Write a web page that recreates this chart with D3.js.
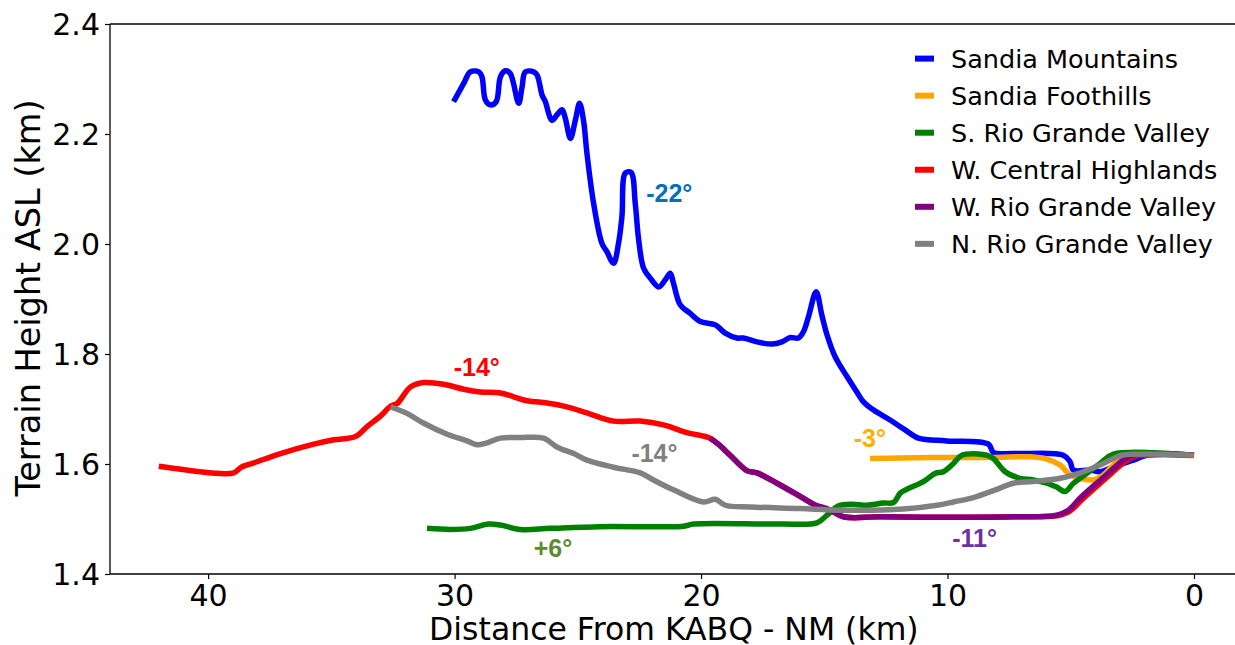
<!DOCTYPE html>
<html>
<head>
<meta charset="utf-8">
<script src="https://cdn.jsdelivr.net/npm/d3@7"></script>
<style>
  html, body { margin: 0; padding: 0; background: #ffffff; }
  svg { display: block; }
</style>
</head>
<body>
<svg id="chart" width="1235" height="645"></svg>
<script>
// Terrain profiles: [distance from KABQ (km), terrain height ASL (km)]
const sandiaMountains = [
  [30.04, 2.259], [29.63, 2.292], [29.36, 2.313], [29.02, 2.313], [28.89, 2.304],
  [28.75, 2.262], [28.55, 2.253], [28.31, 2.259], [28.14, 2.304], [27.94, 2.315],
  [27.74, 2.310], [27.40, 2.256], [27.26, 2.286], [27.13, 2.313], [26.79, 2.313],
  [26.65, 2.307], [26.45, 2.271], [26.32, 2.259], [26.05, 2.225], [25.84, 2.235],
  [25.64, 2.244], [25.51, 2.229], [25.30, 2.192], [25.10, 2.225], [24.93, 2.256],
  [24.77, 2.225], [24.63, 2.165], [24.36, 2.074], [24.02, 2.001], [23.82, 1.986],
  [23.55, 1.965], [23.35, 2.001], [23.21, 2.050], [23.07, 2.129], [22.84, 2.130],
  [22.67, 2.074], [22.53, 2.007], [22.33, 1.956], [22.06, 1.938], [21.72, 1.922],
  [21.45, 1.935], [21.25, 1.947], [21.12, 1.929], [20.84, 1.889], [20.44, 1.874],
  [20.03, 1.859], [19.42, 1.853], [19.02, 1.838], [18.54, 1.829], [18.28, 1.829],
  [17.73, 1.822], [17.12, 1.818], [16.72, 1.822], [16.38, 1.830], [16.05, 1.829],
  [15.84, 1.841], [15.64, 1.868], [15.33, 1.913], [15.10, 1.871], [14.89, 1.835],
  [14.56, 1.795], [14.08, 1.759], [13.68, 1.731], [13.41, 1.713], [13.00, 1.698],
  [12.33, 1.680], [11.72, 1.662], [11.18, 1.647], [10.03, 1.642], [8.34, 1.636],
  [8.14, 1.621], [7.33, 1.619], [5.30, 1.616], [5.03, 1.604], [4.89, 1.589],
  [4.22, 1.589], [3.81, 1.586], [3.27, 1.595], [2.46, 1.607], [1.92, 1.616],
  [0.00, 1.616]
];

const sandiaFoothills = [
  [13.14, 1.610], [11.92, 1.611], [10.03, 1.612], [8.14, 1.612], [6.65, 1.613],
  [5.97, 1.609], [5.43, 1.598], [5.03, 1.580], [4.62, 1.574], [4.08, 1.571],
  [3.68, 1.580], [3.27, 1.598], [2.87, 1.613], [0.00, 1.615]
];

const southRioGrande = [
  [31.12, 1.483], [30.17, 1.481], [29.36, 1.483], [28.62, 1.491], [28.14, 1.489],
  [27.33, 1.481], [26.12, 1.483], [24.09, 1.486], [20.71, 1.487], [20.30, 1.491],
  [16.79, 1.491], [15.30, 1.493], [14.89, 1.507], [14.42, 1.524], [13.88, 1.527],
  [13.27, 1.525], [12.60, 1.529], [12.19, 1.530], [11.92, 1.547], [11.65, 1.554],
  [10.98, 1.568], [10.50, 1.583], [10.17, 1.586], [9.76, 1.601], [9.42, 1.616],
  [8.41, 1.616], [8.14, 1.610], [7.66, 1.586], [7.06, 1.574], [6.52, 1.571],
  [5.97, 1.565], [5.57, 1.558], [5.23, 1.550], [4.89, 1.565], [4.35, 1.583],
  [3.81, 1.601], [3.27, 1.618], [0.00, 1.616]
];

const westCentralHighlands = [
  [42.00, 1.596], [40.31, 1.586], [39.63, 1.583], [38.96, 1.584], [38.62, 1.595],
  [38.15, 1.602], [37.06, 1.619], [35.71, 1.636], [34.90, 1.644], [34.02, 1.650],
  [33.55, 1.668], [33.01, 1.687], [32.60, 1.705], [32.33, 1.710], [31.79, 1.740],
  [31.25, 1.748], [30.44, 1.745], [29.63, 1.736], [28.95, 1.731], [28.14, 1.729],
  [27.06, 1.715], [26.25, 1.711], [25.44, 1.704], [24.63, 1.693], [23.55, 1.678],
  [22.47, 1.678], [21.52, 1.671], [20.57, 1.657], [19.63, 1.647], [19.30, 1.636],
  [18.82, 1.616], [18.14, 1.588], [17.73, 1.584], [16.92, 1.565], [15.98, 1.541],
  [15.44, 1.527], [14.76, 1.516], [14.22, 1.504], [12.73, 1.504], [10.03, 1.503],
  [7.33, 1.504], [5.57, 1.506], [5.05, 1.514], [4.55, 1.535], [3.88, 1.562],
  [3.33, 1.584], [2.80, 1.604], [2.40, 1.614], [0.00, 1.616]
];

const westRioGrande = [
  [19.63, 1.647], [19.30, 1.636], [18.82, 1.616], [18.14, 1.588], [17.73, 1.584],
  [16.92, 1.565], [15.98, 1.541], [15.44, 1.527], [14.76, 1.516], [14.22, 1.504],
  [12.73, 1.504], [10.03, 1.503], [7.33, 1.504], [5.57, 1.507], [5.10, 1.516],
  [4.62, 1.538], [3.95, 1.565], [3.41, 1.586], [2.87, 1.607], [2.46, 1.616],
  [0.00, 1.616]
];

const northRioGrande = [
  [32.60, 1.704], [31.93, 1.692], [31.25, 1.674], [30.30, 1.654], [29.49, 1.642],
  [29.09, 1.635], [28.72, 1.638], [28.14, 1.647], [27.33, 1.648], [26.39, 1.647],
  [25.85, 1.631], [25.17, 1.619], [24.63, 1.607], [23.55, 1.594], [22.47, 1.584],
  [21.93, 1.571], [21.12, 1.553], [19.90, 1.531], [19.42, 1.536], [19.02, 1.525],
  [18.00, 1.522], [15.98, 1.519], [14.36, 1.516], [11.79, 1.518], [10.43, 1.525],
  [9.76, 1.531], [8.95, 1.539], [8.00, 1.554], [7.33, 1.565], [6.52, 1.568],
  [5.43, 1.574], [4.62, 1.584], [3.81, 1.598], [3.27, 1.610], [2.93, 1.616],
  [0.00, 1.616]
];

const seriesNames = [
  "Sandia Mountains", "Sandia Foothills", "S. Rio Grande Valley",
  "W. Central Highlands", "W. Rio Grande Valley", "N. Rio Grande Valley"
];
const seriesColors = ["#0000ff", "#ffa500", "#008000", "#ff0000", "#800080", "#808080"];
const seriesData = [
  sandiaMountains, sandiaFoothills, southRioGrande,
  westCentralHighlands, westRioGrande, northRioGrande
];

// Slope annotations, anchored in data coordinates [distance, height]
const slopeLabels = ["-22°", "-14°", "-3°", "-14°", "+6°", "-11°"];
const slopeAnchors = [[21.29, 2.076], [29.10, 1.760], [13.15, 1.631], [21.89, 1.604], [26.01, 1.431], [8.90, 1.450]];
const slopeColors = ["#0070c0", "#ff0000", "#ffb000", "#808080", "#5a8c30", "#7030a0"];

const xTicks = [40, 30, 20, 10, 0];
const yTicks = [1.4, 1.6, 1.8, 2.0, 2.2, 2.4];

const svg = d3.select("#chart");
const W = 1235;
const plot = { left: 110, right: 1194, top: 24, bottom: 574 };

// Distance runs right-to-left towards KABQ at 0 km
const x = d3.scaleLinear().domain([43.98, 0]).range([plot.left, plot.right]);
const y = d3.scaleLinear().domain([1.4, 2.4]).range([plot.bottom, plot.top]);
// The axes frame extends past the page edge, down to about -2.1 km
const frameRight = x(-2.1);

svg.append("defs").append("clipPath").attr("id", "plot-clip")
  .append("rect")
  .attr("x", plot.left).attr("y", plot.top)
  .attr("width", W - plot.left).attr("height", plot.bottom - plot.top);

const line = d3.line()
  .x(d => x(d[0]))
  .y(d => y(d[1]))
  .curve(d3.curveCatmullRom.alpha(0.5));

const lines = svg.append("g").attr("clip-path", "url(#plot-clip)");
seriesData.forEach((data, i) => {
  lines.append("path")
    .datum(data)
    .attr("d", line)
    .attr("fill", "none")
    .attr("stroke", seriesColors[i])
    .attr("stroke-width", 5.5)
    .attr("stroke-linejoin", "round")
    .attr("stroke-linecap", "butt");
});

// Axes
const xAxis = d3.axisBottom(x).tickValues(xTicks).tickSize(5).tickPadding(6).tickFormat(d3.format("d"));
const yAxis = d3.axisLeft(y).tickValues(yTicks).tickSize(5).tickPadding(6).tickFormat(d3.format(".1f"));

const gx = svg.append("g").attr("transform", `translate(0,${plot.bottom})`).call(xAxis);
const gy = svg.append("g").attr("transform", `translate(${plot.left},0)`).call(yAxis);

[gx, gy].forEach(g => {
  g.select(".domain").remove();
  g.selectAll(".tick line").attr("stroke", "#000").attr("stroke-width", 1.2);
  g.selectAll(".tick text")
    .attr("fill", "#000")
    .style("font-family", "'DejaVu Sans', sans-serif")
    .style("font-size", "30px");
});
gx.selectAll(".tick text").attr("dy", null).attr("y", 32);
gy.selectAll(".tick text").attr("dy", "0.36em").attr("x", -10);

// Spines (the frame runs off the right edge of the page)
const spines = svg.append("g").attr("stroke", "#000").attr("stroke-width", 1.3);
spines.append("line").attr("x1", plot.left).attr("x2", W).attr("y1", plot.top).attr("y2", plot.top);
spines.append("line").attr("x1", plot.left).attr("x2", W).attr("y1", plot.bottom).attr("y2", plot.bottom);
spines.append("line").attr("x1", plot.left).attr("x2", plot.left).attr("y1", plot.top).attr("y2", plot.bottom);

// Axis titles, centred on the full axes frame
svg.append("text")
  .attr("x", (plot.left + frameRight) / 2 - 4)
  .attr("y", 640)
  .attr("text-anchor", "middle")
  .style("font-family", "'DejaVu Sans', sans-serif")
  .style("font-size", "31.5px")
  .text("Distance From KABQ - NM (km)");

svg.append("text")
  .attr("transform", "translate(40,298) rotate(-90)")
  .attr("text-anchor", "middle")
  .style("font-family", "'DejaVu Sans', sans-serif")
  .style("font-size", "33.5px")
  .text("Terrain Height ASL (km)");

// Legend
const legend = svg.append("g").attr("transform", "translate(915,58.6)");
seriesNames.forEach((name, i) => {
  const row = legend.append("g").attr("transform", `translate(0,${i * 37.05})`);
  row.append("line")
    .attr("x1", 0).attr("x2", 19).attr("y1", 0).attr("y2", 0)
    .attr("stroke", seriesColors[i]).attr("stroke-width", 6);
  row.append("text")
    .attr("x", 36).attr("y", 0).attr("dy", "0.36em")
    .style("font-family", "'DejaVu Sans', sans-serif")
    .style("font-size", "25.5px")
    .attr("fill", "#000")
    .text(name);
});

// Slope annotations
slopeLabels.forEach((label, i) => {
  svg.append("text")
    .attr("x", x(slopeAnchors[i][0]))
    .attr("y", y(slopeAnchors[i][1]))
    .attr("text-anchor", "middle")
    .attr("fill", slopeColors[i])
    .style("font-family", "'Liberation Sans', Arial, sans-serif")
    .style("font-weight", "bold")
    .style("font-size", "25px")
    .text(label);
});
</script>
</body>
</html>
